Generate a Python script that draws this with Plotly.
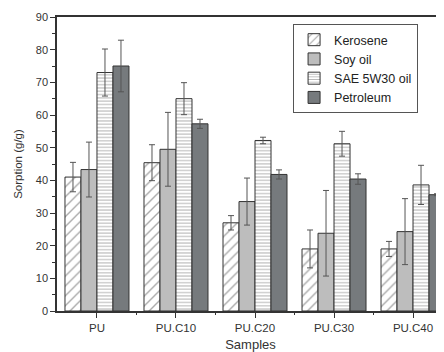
import plotly.graph_objects as go

samples = ["PU", "PU.C10", "PU.C20", "PU.C30", "PU.C40"]
series_names = ["Kerosene", "Soy oil", "SAE 5W30 oil", "Petroleum"]
kerosene = [41.0, 45.4, 27.0, 19.0, 19.0]
kerosene_err = [4.5, 5.5, 2.2, 5.8, 2.3]
soy_oil = [43.3, 49.5, 33.5, 23.8, 24.3]
soy_oil_err = [8.4, 11.3, 7.2, 13.1, 10.1]
sae_oil = [73.0, 65.0, 52.2, 51.2, 38.6]
sae_oil_err = [7.2, 4.9, 1.0, 3.8, 6.0]
petroleum = [75.0, 57.3, 41.8, 40.4, 35.6]
petroleum_err = [7.9, 1.4, 1.4, 1.6, 0.3]
boundaries = [0.5, 1.5, 2.5, 3.5]

values = [kerosene, soy_oil, sae_oil, petroleum]
errors = [kerosene_err, soy_oil_err, sae_oil_err, petroleum_err]
styles = [
    dict(color="white", pattern=dict(shape="/", fgcolor="#555555", bgcolor="white", size=7, solidity=0.2)),
    dict(color="#bdbdbd"),
    dict(color="white", pattern=dict(shape="-", fgcolor="#666666", bgcolor="white", size=3.3, solidity=0.3)),
    dict(color="#767a7d"),
]

fig = go.Figure()
for name, vals, errs, st in zip(series_names, values, errors, styles):
    fig.add_trace(go.Bar(
        x=samples, y=vals, name=name,
        marker=dict(line=dict(color="#333333", width=1), **st),
        error_y=dict(type="data", array=errs, visible=True, color="#555555", thickness=1, width=3),
    ))
# empty helper trace so the boundary-tick axis is drawn
fig.add_trace(go.Scatter(x=[], y=[], xaxis="x2", yaxis="y", showlegend=False, hoverinfo="skip"))

xrange = [-0.506, 4.392]
fig.update_layout(
    width=436, height=344,
    margin=dict(l=49, r=0, t=9, b=41),
    paper_bgcolor="white", plot_bgcolor="white",
    barmode="group", bargap=0.19, bargroupgap=0,
    font=dict(family="Liberation Sans, Arial, sans-serif", color="#333333", size=11),
    legend=dict(x=0.61, y=0.976, xanchor="left", yanchor="top",
                bordercolor="#555555", borderwidth=1, bgcolor="white",
                font=dict(size=12.5, color="#222222"), tracegroupgap=0),
    xaxis=dict(
        type="category", range=xrange, automargin=False,
        showline=True, linecolor="#333333", linewidth=1.5, mirror=True,
        ticks="outside", ticklen=5, tickcolor="#333333",
        showgrid=False, zeroline=False,
        title=dict(text="Samples", font=dict(size=13), standoff=7),
        tickfont=dict(size=11.5),
    ),
    xaxis2=dict(
        range=xrange, overlaying="x", anchor="y", side="bottom",
        tickmode="array", tickvals=boundaries, showticklabels=False,
        ticks="outside", ticklen=3, tickcolor="#333333",
        showline=False, showgrid=False, zeroline=False, automargin=False,
    ),
    yaxis=dict(
        range=[0, 90], dtick=10, automargin=False,
        showline=True, linecolor="#333333", linewidth=1.5,
        ticks="outside", ticklen=5, tickcolor="#333333",
        minor=dict(ticks="outside", ticklen=3, dtick=5, tickcolor="#333333"),
        showgrid=False, zeroline=False,
        title=dict(text="Sorption (g/g)", font=dict(size=11.5), standoff=11),
        tickfont=dict(size=11),
    ),
)

fig.write_html("out.html")
